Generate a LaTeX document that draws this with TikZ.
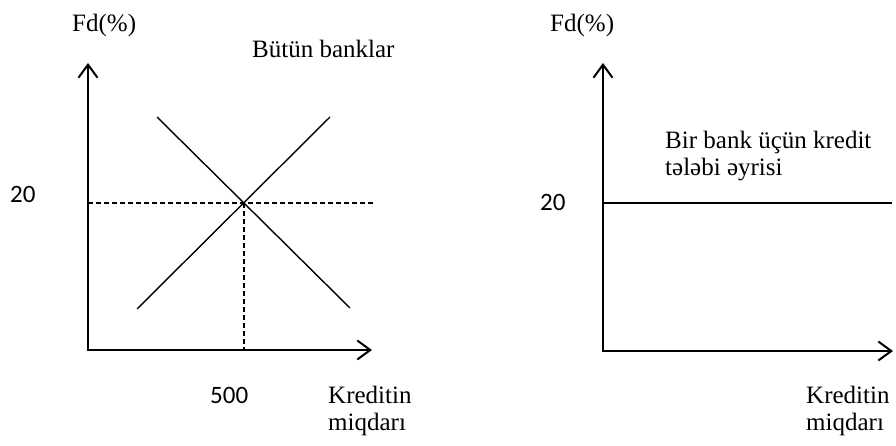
\documentclass[tikz,border=0pt]{standalone}
\usepackage{fontspec}
\setmainfont{Liberation Serif}
\newfontfamily\calib{Carlito}
\usetikzlibrary{arrows.meta}
\begin{document}
\begin{tikzpicture}[x=1pt,y=-1pt,
  axis/.style={line width=2pt,-{Straight Barb[length=13pt,width=19pt,line width=2pt]}},
  curve/.style={line width=1.4pt},
  guide/.style={line width=1.3pt,dash pattern=on 5pt off 3pt},
  lbl/.style={inner sep=0pt,font=\fontsize{25}{27}\selectfont},
  num/.style={inner sep=0pt,font=\calib\fontsize{25}{27}\selectfont}]
\useasboundingbox (0,0) rectangle (896,446);
% left chart
\coordinate (O1) at (88,350);
\coordinate (Y1) at (88,63);
\coordinate (X1) at (372,350);
\coordinate (E) at (244,203);
\coordinate (H1) at (374,203);
\coordinate (H0) at (88,203);
\coordinate (B1) at (244,350);
\coordinate (DA) at (157,117);
\coordinate (DB) at (350,308);
\coordinate (SA) at (137,309);
\coordinate (SB) at (330,117);
\draw[guide] (H0) -- (H1);
\draw[guide] (E) -- (B1);
\draw[curve] (DA) -- (DB);
\draw[curve] (SA) -- (SB);
\draw[axis] (O1) -- (Y1);
\draw[axis] ([xshift=-1pt]O1) -- (X1);
\node[lbl,anchor=base west] (fd1) at (72,32) {Fd(\%)};
\node[lbl,anchor=base west] (all) at (252,58) {Bütün banklar};
\node[num,anchor=base west] (t1) at (10,203) {20};
\node[num,anchor=base west] (f5) at (210,403) {500};
\node[lbl,anchor=north west,align=left] (kr1) at (328,386) {Kreditin\\miqdarı};
% right chart
\coordinate (O2) at (603,351);
\coordinate (Y2) at (603,63);
\coordinate (X2) at (893,351);
\coordinate (R0) at (603,203);
\coordinate (R1) at (892,203);
\draw[curve] (R0) -- (R1);
\draw[axis] (O2) -- (Y2);
\draw[axis] ([xshift=-1pt]O2) -- (X2);
\node[lbl,anchor=base west] (fd2) at (550,32) {Fd(\%)};
\node[num,anchor=base west] (t2) at (540,211) {20};
\node[lbl,anchor=north west,align=left] (bir) at (665,131) {Bir bank üçün kredit\\tələbi əyrisi};
\node[lbl,anchor=north west,align=left] (kr2) at (806,386) {Kreditin\\miqdarı};
\end{tikzpicture}
\end{document}
